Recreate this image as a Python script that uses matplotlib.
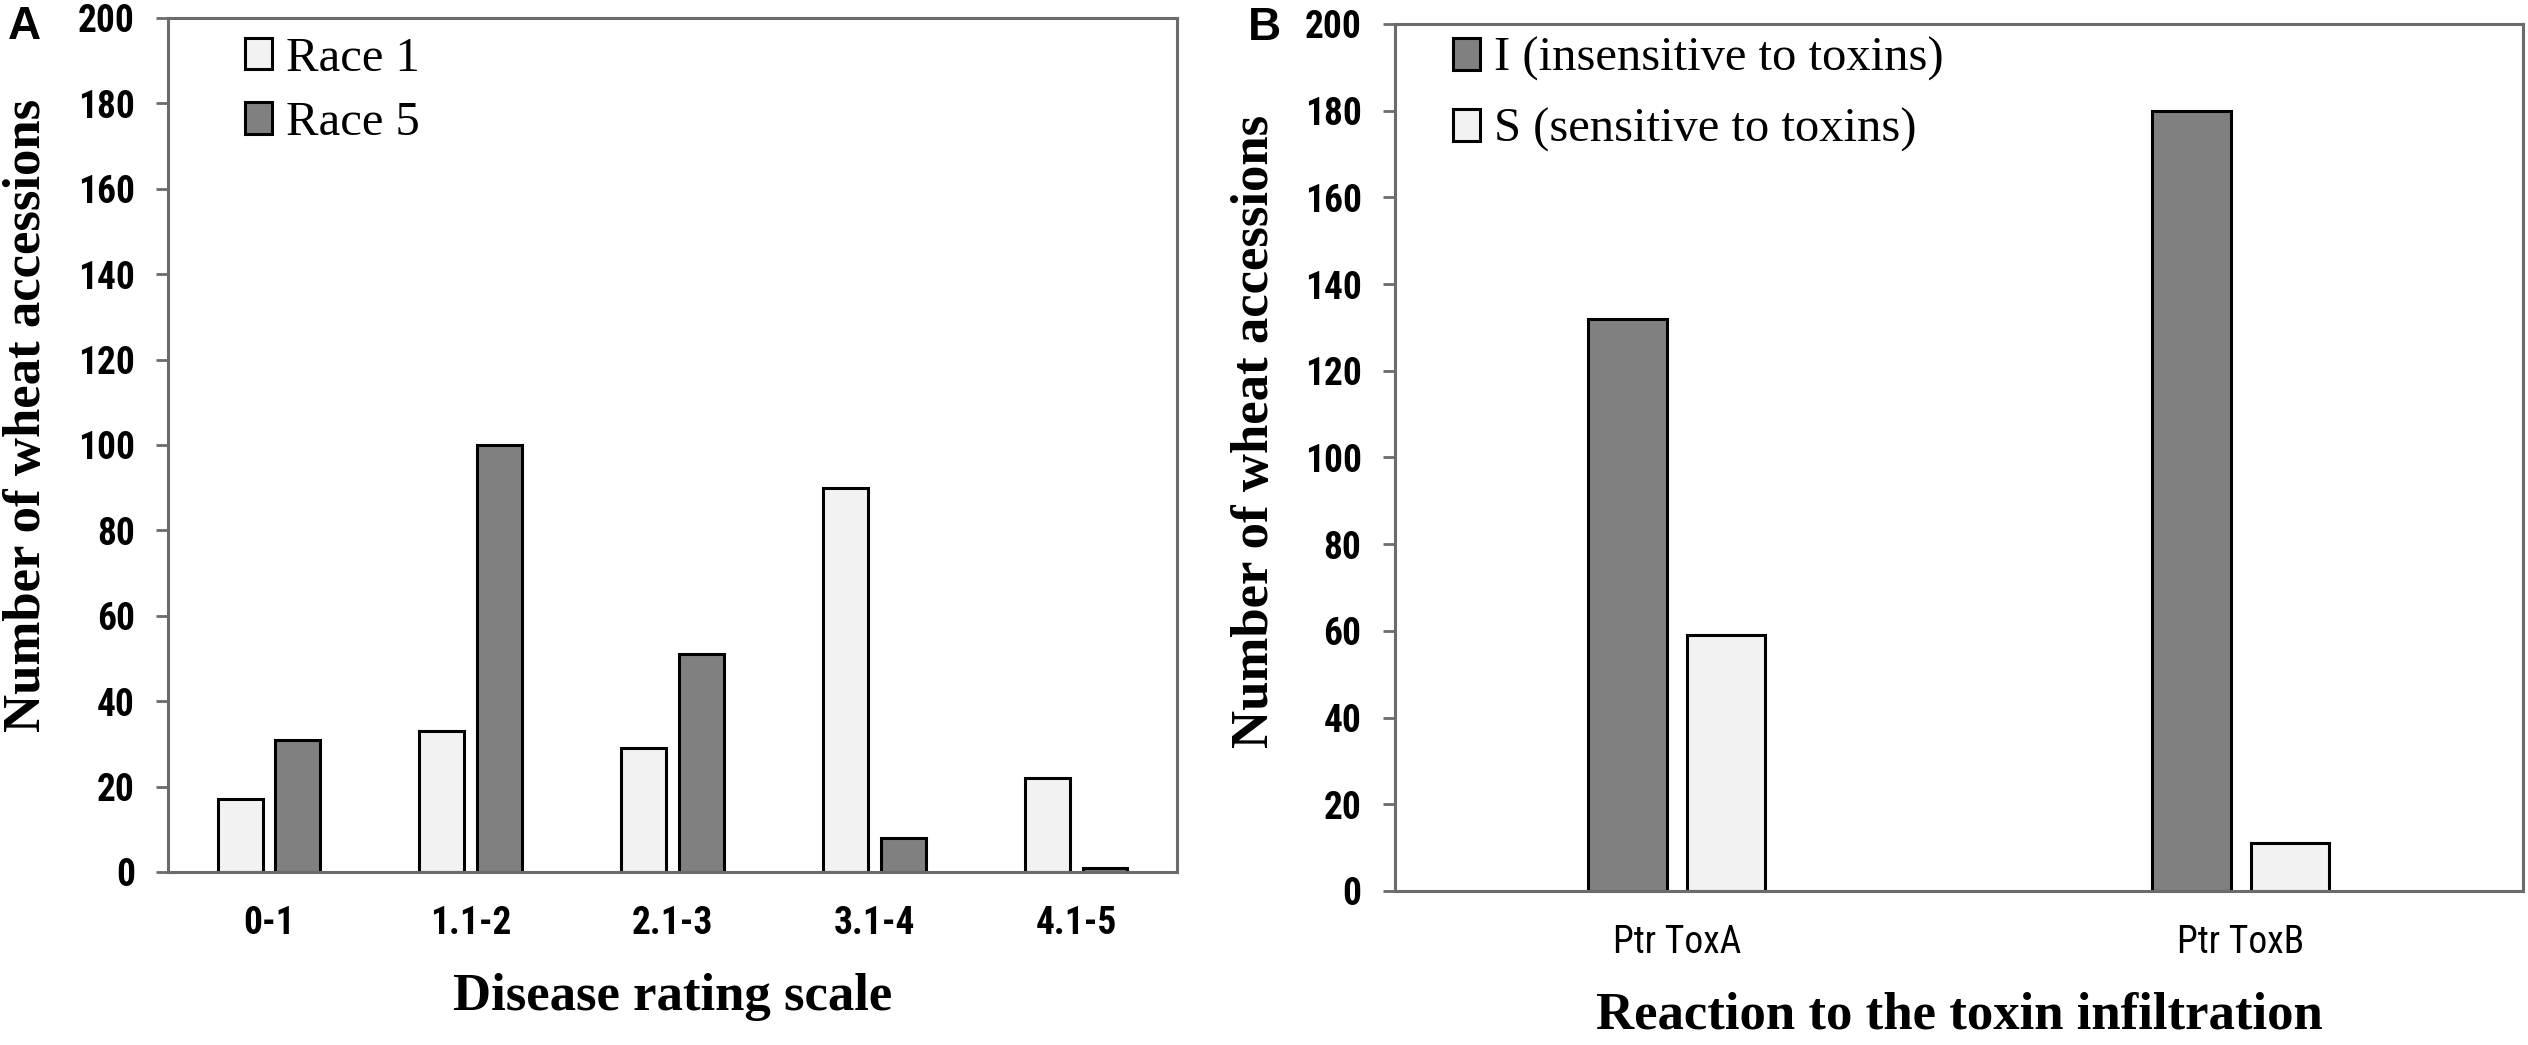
#!/usr/bin/env python3

import matplotlib
matplotlib.use("Agg")
import matplotlib.pyplot as plt
from matplotlib import font_manager
import numpy as np

# Panel A: disease rating of the accessions for the two races.
rating_classes = ["0-1", "1.1-2", "2.1-3", "3.1-4", "4.1-5"]
race1 = [17, 33, 29, 90, 22]
race5 = [31, 100, 51, 8, 1]

# Panel B: reaction to the toxin infiltration.
toxins = ["Ptr ToxA", "Ptr ToxB"]
insensitive = [132, 180]
sensitive = [59, 11]

y_ticks = list(range(0, 201, 20))

LIGHT = "#f2f2f2"
DARK = "#808080"
SPINE = "#6b6b6b"

SERIF = ["Liberation Serif", "DejaVu Serif"]


# The tick labels of the original are in a narrow sans face; use one if installed.
def narrow_font():
	fams = {}
	for f in font_manager.fontManager.ttflist:
		fams.setdefault(f.name, set()).add(str(f.stretch))
	for name in ["Liberation Sans Narrow", "DejaVu Sans Condensed", "Roboto Condensed",
				 "Open Sans Condensed", "Noto Sans Condensed"]:
		if name in fams:
			return name, "normal"
	for name in ["DejaVu Sans", "Noto Sans", "Open Sans", "Roboto"]:
		st = fams.get(name, set())
		for s in ["condensed", "semi-condensed", "extra-condensed", "75", "87.5", "62.5"]:
			if s in st:
				return name, s
	for name in fams:
		if "Narrow" in name or "Condensed" in name:
			return name, "normal"
	return "DejaVu Sans", "condensed"


TICK_NAME, TICK_STRETCH = narrow_font()


def style_axes(ax, bold_x=True):
	for side in ["left", "right", "top", "bottom"]:
		ax.spines[side].set_color(SPINE)
		ax.spines[side].set_linewidth(2.2)
	ax.set_ylim(0, 200)
	ax.set_yticks(y_ticks)
	ax.tick_params(axis="y", length=9, width=2, color=SPINE, pad=15)
	ax.tick_params(axis="x", length=0, pad=24)
	labels = ax.get_yticklabels() + ax.get_xticklabels()
	for lbl in labels:
		lbl.set_fontfamily([TICK_NAME, "DejaVu Sans"])
		lbl.set_fontstretch(TICK_STRETCH)
		lbl.set_fontsize(27)
		lbl.set_fontweight("bold")
	if not bold_x:
		for lbl in ax.get_xticklabels():
			lbl.set_fontweight("normal")


def plot():
	fig = plt.figure(figsize=(25.28, 10.45), dpi=100)

	# ---- Panel A
	axA = fig.add_axes([0.0665, 0.1656, 0.3991, 0.8172])
	x = np.arange(len(rating_classes))
	w = 0.223
	off = 0.143
	axA.bar(x - off, race1, w, color=LIGHT, edgecolor="black", linewidth=2.2, label="Race 1")
	axA.bar(x + off, race5, w, color=DARK, edgecolor="black", linewidth=2.2, label="Race 5")
	axA.set_xlim(-0.5, len(rating_classes) - 0.5)
	axA.set_xticks(x)
	axA.set_xticklabels(rating_classes)
	style_axes(axA)
	axA.set_xlabel("Disease rating scale", fontsize=38, fontweight="bold", family=SERIF, labelpad=22)
	axA.text(-0.14, 0.535, "Number of wheat accessions", transform=axA.transAxes, rotation=90,
			 ha="center", va="center", fontsize=38, fontweight="bold", family=SERIF)
	axA.legend(loc="upper left", bbox_to_anchor=(0.0763, 0.978), frameon=False,
			   prop={"family": SERIF, "size": 35}, handlelength=0.55, handleheight=0.62,
			   handletextpad=0.3, labelspacing=0.42, borderpad=0, borderaxespad=0)

	# ---- Panel B
	axB = fig.add_axes([0.5518, 0.1474, 0.4462, 0.8297])
	xb = np.arange(len(toxins))
	wb = 0.14
	offb = 0.087
	axB.bar(xb - offb, insensitive, wb, color=DARK, edgecolor="black", linewidth=2.2,
			label="I (insensitive to toxins)")
	axB.bar(xb + offb, sensitive, wb, color=LIGHT, edgecolor="black", linewidth=2.2,
			label="S (sensitive to toxins)")
	axB.set_xlim(-0.5, len(toxins) - 0.5)
	axB.set_xticks(xb)
	axB.set_xticklabels(toxins)
	style_axes(axB, bold_x=False)
	axB.set_xlabel("Reaction to the toxin infiltration", fontsize=38, fontweight="bold", family=SERIF,
				   labelpad=22)
	axB.text(-0.124, 0.53, "Number of wheat accessions", transform=axB.transAxes, rotation=90,
			 ha="center", va="center", fontsize=38, fontweight="bold", family=SERIF)
	axB.legend(loc="upper left", bbox_to_anchor=(0.0514, 0.985), frameon=False,
			   prop={"family": SERIF, "size": 35}, handlelength=0.55, handleheight=0.62,
			   handletextpad=0.3, labelspacing=0.55, borderpad=0, borderaxespad=0)

	# Panel letters
	fig.text(8 / 2528, 1 - 39 / 1045, "A", fontsize=33, fontweight="bold",
			 family=["Liberation Sans", "DejaVu Sans"], va="baseline")
	fig.text(1248 / 2528, 1 - 40 / 1045, "B", fontsize=33, fontweight="bold",
			 family=["Liberation Sans", "DejaVu Sans"], va="baseline")

	fig.savefig("out.png", dpi=100)


def main():
	plot()


if __name__ == '__main__':
	main()
